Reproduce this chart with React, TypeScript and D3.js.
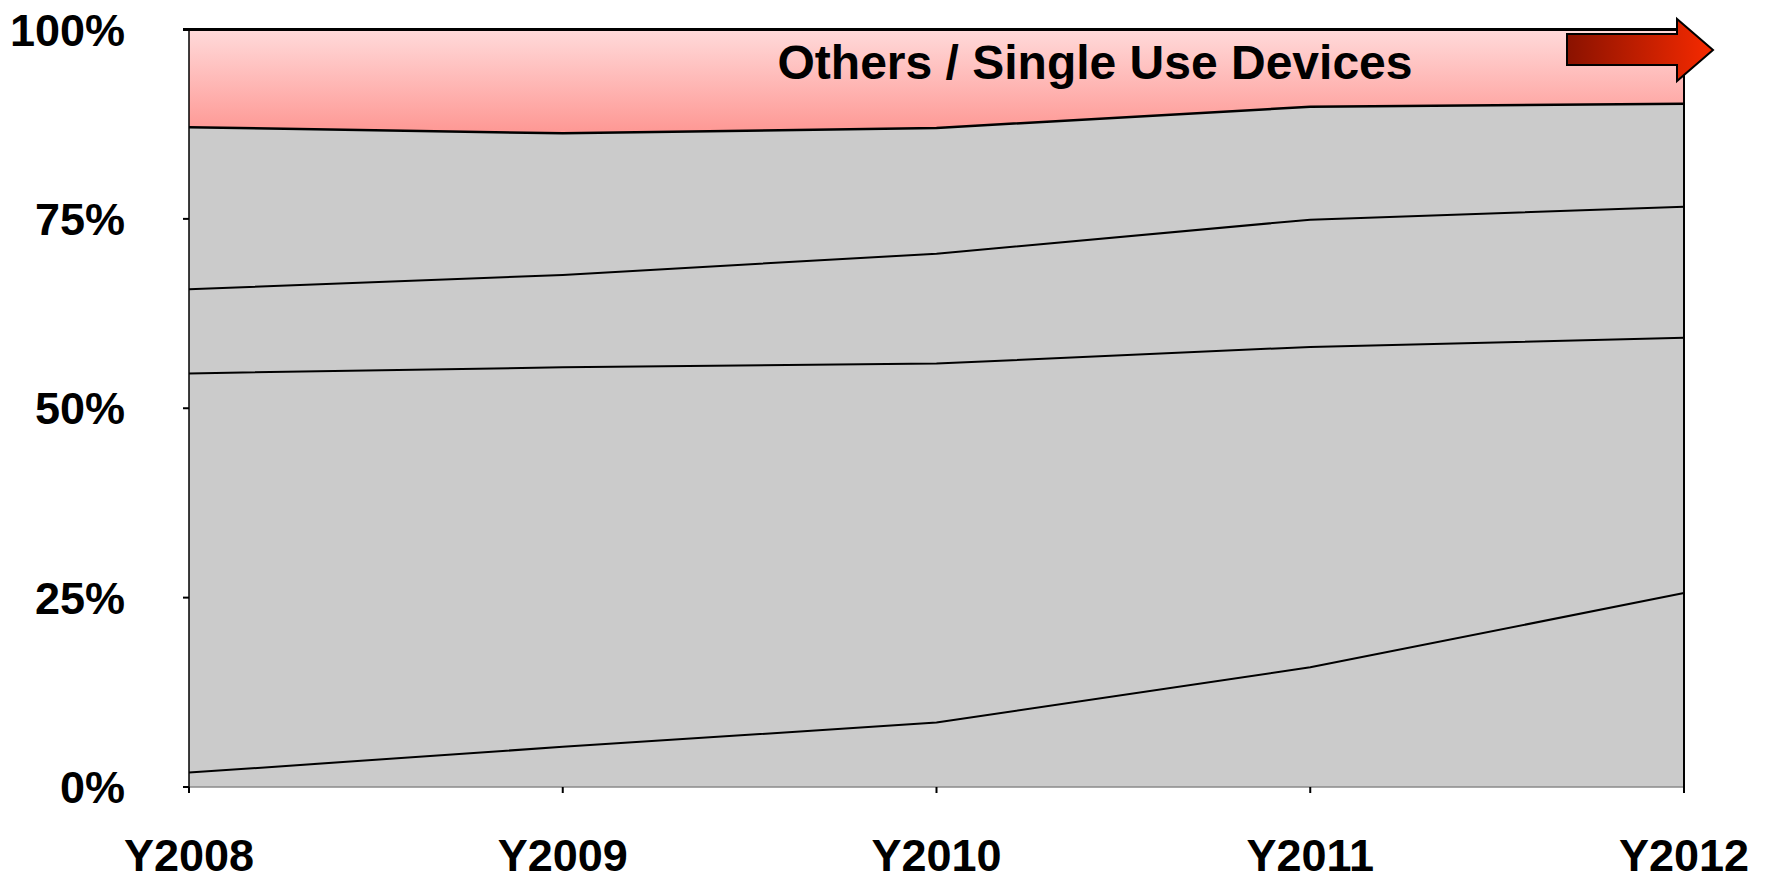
import React from "react";
import * as d3 from "d3";

const years = ["Y2008", "Y2009", "Y2010", "Y2011", "Y2012"];
const seriesKeys = ["s1", "s2", "s3", "s4", "others"];
const s1 = [1.9, 5.3, 8.5, 15.8, 25.6];
const s2 = [52.7, 50.1, 47.4, 42.3, 33.7];
const s3 = [11.1, 12.2, 14.5, 16.8, 17.3];
const s4 = [21.4, 18.7, 16.6, 14.9, 13.6];
const others = [12.9, 13.7, 13.0, 10.2, 9.8];
const yTicks = [0, 25, 50, 75, 100];
const yTickLabels = ["0%", "25%", "50%", "75%", "100%"];
const title = "Others / Single Use Devices";

const W = 1765;
const H = 877;
const left = 189;
const right = 1684;
const top = 29.5;
const bottom = 787;
const FONT = "'Liberation Sans', Arial, Helvetica, sans-serif";

export default function App() {
  const table = years.map((y, i) => ({
    year: y,
    s1: s1[i],
    s2: s2[i],
    s3: s3[i],
    s4: s4[i],
    others: others[i],
  }));
  const stack = d3.stack<any>().keys(seriesKeys);
  const layers = stack(table);

  const x = d3.scalePoint<string>().domain(years).range([left, right]);
  const y = d3.scaleLinear().domain([0, 100]).range([bottom, top]);

  const area = d3
    .area<any>()
    .x((d) => x(d.data.year) as number)
    .y0((d) => y(d[0]))
    .y1((d) => y(d[1]));
  const upper = d3
    .line<any>()
    .x((d) => x(d.data.year) as number)
    .y((d) => y(d[1]));

  const arrowPts: [number, number][] = [
    [1567, 34],
    [1677, 34],
    [1677, 19],
    [1713, 50],
    [1677, 81],
    [1677, 65],
    [1567, 65],
  ];

  return (
    <svg
      width={W}
      height={H}
      style={{ position: "absolute", left: 0, top: 0, background: "#fff" }}
      fontFamily={FONT}
    >
      <defs>
        <linearGradient id="redGrad" x1="0" y1="0" x2="0" y2="1">
          <stop offset="0%" stopColor="#ffdada" />
          <stop offset="100%" stopColor="#fe9793" />
        </linearGradient>
        <linearGradient id="arrowGrad" x1="0" y1="0" x2="1" y2="0">
          <stop offset="0%" stopColor="#8a1200" />
          <stop offset="100%" stopColor="#f72a00" />
        </linearGradient>
      </defs>

      {layers.map((layer, i) => (
        <path
          key={layer.key}
          d={area(layer) as string}
          fill={i === layers.length - 1 ? "url(#redGrad)" : "#cbcbcb"}
          stroke="none"
        />
      ))}

      {/* bottom axis line */}
      <line x1={left} x2={right} y1={bottom} y2={bottom} stroke="#8a8a8a" strokeWidth={1.5} />

      {layers.slice(0, layers.length - 1).map((layer, i) => (
        <path
          key={"l" + layer.key}
          d={upper(layer) as string}
          fill="none"
          stroke="#000"
          strokeWidth={i === layers.length - 2 ? 2.5 : 2}
        />
      ))}

      {/* top border */}
      <line x1={left - 6} x2={right} y1={y(100)} y2={y(100)} stroke="#000" strokeWidth={3} />
      {/* left axis */}
      <line x1={left} x2={left} y1={y(100)} y2={bottom} stroke="#000" strokeWidth={1.5} />
      {/* right border */}
      <line x1={right} x2={right} y1={y(100)} y2={bottom + 6} stroke="#000" strokeWidth={2} />

      {yTicks.map((t, i) => (
        <g key={"yt" + t}>
          <line x1={left - 6} x2={left} y1={y(t)} y2={y(t)} stroke="#000" strokeWidth={2} />
          <text
            x={125}
            y={y(t) + 16}
            textAnchor="end"
            fontSize={45}
            fontWeight="bold"
            fill="#000"
          >
            {yTickLabels[i]}
          </text>
        </g>
      ))}

      {years.map((yr) => (
        <g key={"xt" + yr}>
          <line
            x1={x(yr) as number}
            x2={x(yr) as number}
            y1={bottom}
            y2={bottom + 6}
            stroke="#000"
            strokeWidth={2}
          />
          <text
            x={x(yr) as number}
            y={871}
            textAnchor="middle"
            fontSize={45}
            fontWeight="bold"
            fill="#000"
          >
            {yr}
          </text>
        </g>
      ))}

      <text x={1095} y={79} textAnchor="middle" fontSize={48} fontWeight="bold" fill="#000">
        {title}
      </text>

      <polygon
        points={arrowPts.map((p) => p.join(",")).join(" ")}
        fill="url(#arrowGrad)"
        stroke="#000"
        strokeWidth={2}
        strokeLinejoin="miter"
      />
    </svg>
  );
}
